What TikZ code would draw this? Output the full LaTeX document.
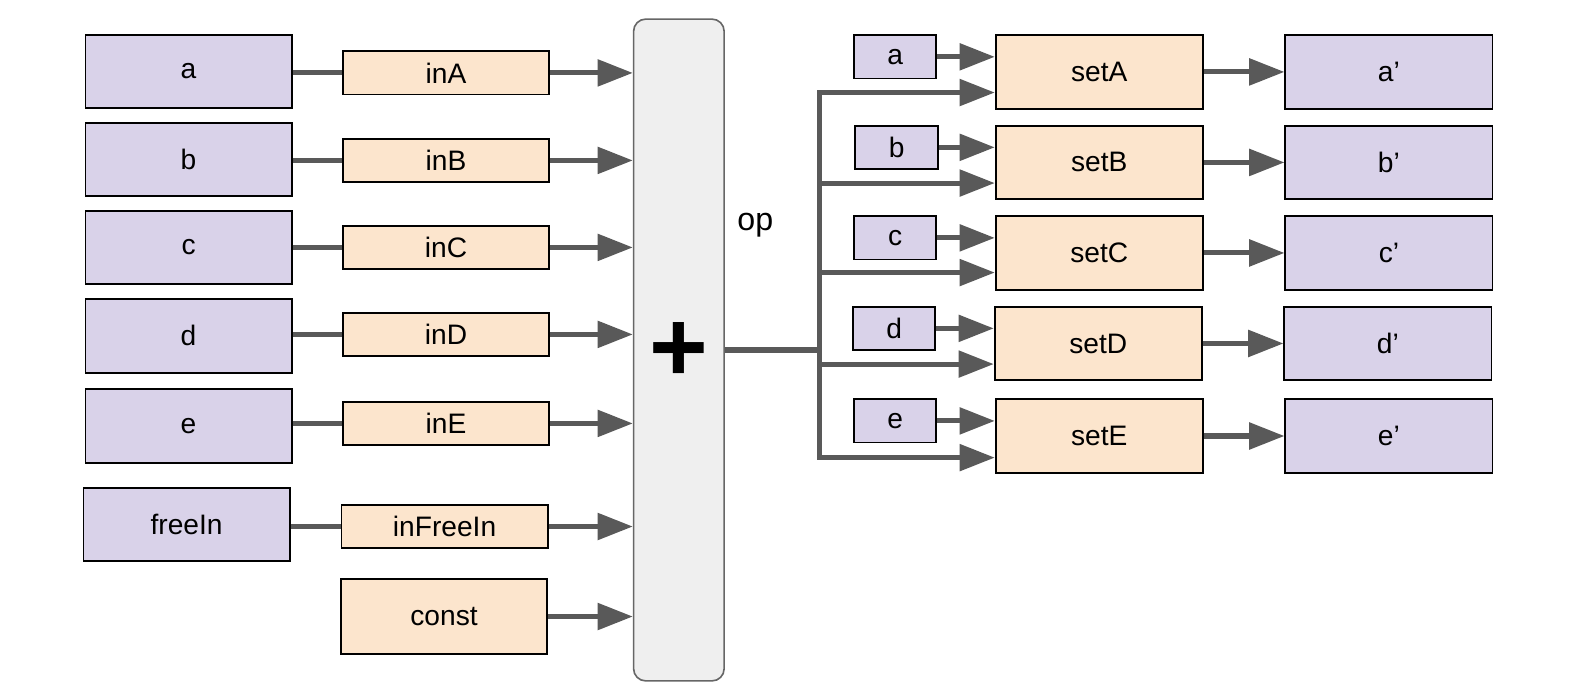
\documentclass[tikz,border=0pt]{standalone}
\usepackage{fontspec}
\setmainfont{Liberation Sans}
\usetikzlibrary{arrows.meta}
\definecolor{pfill}{HTML}{D9D2E9}
\definecolor{ofill}{HTML}{FCE5CD}
\definecolor{gfill}{HTML}{EFEFEF}
\definecolor{gline}{HTML}{666666}
\definecolor{aline}{HTML}{595959}
\tikzset{
  box/.style={draw=black, line width=0.9pt, inner sep=0pt, font=\fontsize{14}{16}\selectfont},
  pbox/.style={box, fill=pfill, minimum width=102.5pt, minimum height=36.5pt},
  ibox/.style={box, fill=ofill, minimum width=102.5pt, minimum height=21.5pt},
  sbox/.style={box, fill=pfill, minimum width=41pt, minimum height=21.5pt},
  setbox/.style={box, fill=ofill, minimum width=103pt, minimum height=36.5pt},
  conn/.style={draw=aline, line width=2.5pt},
  arr/.style={conn, -{Triangle[length=17.5pt,width=13pt]}},
}
\begin{document}
\begin{tikzpicture}[x=0.5pt,y=-0.5pt]
\useasboundingbox (0,0) rectangle (1568,687);
% op box
\node[draw=gline, line width=0.8pt, fill=gfill, rounded corners=6pt, minimum width=45pt, minimum height=329pt, inner sep=0pt] (op) at (675,348) {};
\node (plus) at (675,350) {\fontsize{50}{50}\selectfont\bfseries +};
\node[font=\fontsize{16}{18}\selectfont] (oplabel) at (751,224) {op};
% left inputs
\node[pbox] (a) at (187.5,71) {a};
\node[pbox] (b) at (187.5,158.5) {b};
\node[pbox] (c) at (187.5,246) {c};
\node[pbox] (d) at (187.5,334) {d};
\node[pbox] (e) at (187.5,423.5) {e};
\node[pbox] (free) at (185.5,521.5) {freeIn};
\node[ibox] (inA) at (443.5,72.5) {inA};
\node[ibox] (inB) at (443.5,159.5) {inB};
\node[ibox] (inC) at (443.5,246) {inC};
\node[ibox] (inD) at (443.5,332.5) {inD};
\node[ibox] (inE) at (443.5,421) {inE};
\node[ibox] (inF) at (442,523.5) {inFreeIn};
\node[ibox, minimum height=37pt] (const) at (441.5,613) {const};
\foreach \s/\t in {a/inA,b/inB,c/inC,d/inD,e/inE,free/inF}
  \draw[conn] (\t.west -| \s.east) -- (\t.west);
\foreach \t in {inA,inB,inC,inD,inE,inF,const}
  \draw[arr] (\t.east) -- (\t.east -| op.west);
% right side
\node[sbox] (sa) at (890,56.5) {a};
\node[sbox] (sb) at (891.5,146.5) {b};
\node[sbox] (sc) at (890,236.5) {c};
\node[sbox] (sd) at (889,326.5) {d};
\node[sbox] (se) at (890,418.5) {e};
\node[setbox] (setA) at (1093,71.5) {setA};
\node[setbox] (setB) at (1093,161.5) {setB};
\node[setbox] (setC) at (1093,251.5) {setC};
\node[setbox] (setD) at (1092,341.5) {setD};
\node[setbox] (setE) at (1093,433.5) {setE};
\node[pbox, minimum width=103pt] (oa) at (1381,71.5) {a’};
\node[pbox, minimum width=103pt] (ob) at (1381,161.5) {b’};
\node[pbox, minimum width=103pt] (oc) at (1381,251.5) {c’};
\node[pbox, minimum width=103pt] (od) at (1380,341.5) {d’};
\node[pbox, minimum width=103pt] (oe) at (1381,433.5) {e’};
\coordinate (bus) at (815,348);
\coordinate (bA) at (815,92);
\coordinate (bB) at (815,182);
\coordinate (bC) at (815,271);
\coordinate (bD) at (815,362);
\coordinate (bE) at (815,455);
\draw[conn] (op.east) -- (bus);
\draw[conn, line cap=rect] (bA) -- (bE);
\foreach \b/\t in {bA/setA,bB/setB,bC/setC,bD/setD,bE/setE}
  \draw[arr] (\b) -- (\b -| \t.west);
\foreach \s/\t in {sa/setA,sb/setB,sc/setC,sd/setD,se/setE}
  \draw[arr] (\s.east) -- (\s.east -| \t.west);
\foreach \s/\t in {setA/oa,setB/ob,setC/oc,setD/od,setE/oe}
  \draw[arr] (\s.east) -- (\s.east -| \t.west);
\end{tikzpicture}
\end{document}
